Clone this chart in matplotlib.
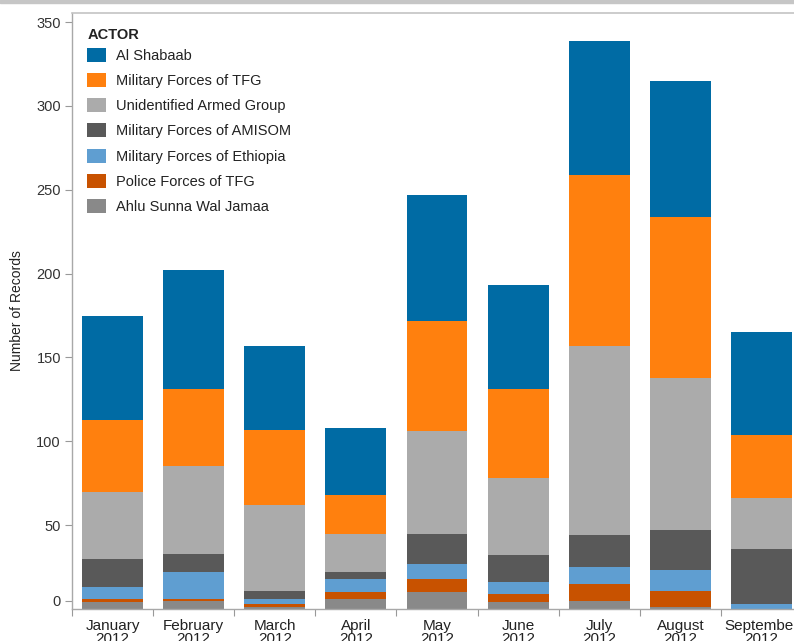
import matplotlib
matplotlib.use("Agg")
import matplotlib.pyplot as plt
import matplotlib.transforms as mtransforms
import numpy as np
from matplotlib.patches import Patch, Rectangle

plt.rcParams['font.family'] = ['Liberation Sans', 'DejaVu Sans']

months = ["January\n2012", "February\n2012", "March\n2012", "April\n2012", "May\n2012",
          "June\n2012", "July\n2012", "August\n2012", "September\n2012"]

# stacked bottom -> top
ahlu_sunna   = [4, 5, 1, 6, 10, 4, 5, 1, 0]
police_tfg   = [2, 1, 2, 4, 8, 5, 10, 10, 0]
ethiopia     = [7, 16, 3, 8, 9, 7, 10, 12, 3]
amisom       = [17, 11, 5, 4, 18, 16, 19, 24, 33]
unidentified = [40, 52, 51, 23, 61, 46, 113, 91, 30]
military_tfg = [43, 46, 45, 23, 66, 53, 102, 96, 38]
al_shabaab   = [62, 71, 50, 40, 75, 62, 80, 81, 61]

legend_order = ["Al Shabaab", "Military Forces of TFG", "Unidentified Armed Group",
                "Military Forces of AMISOM", "Military Forces of Ethiopia",
                "Police Forces of TFG", "Ahlu Sunna Wal Jamaa"]

series = [
    ("Ahlu Sunna Wal Jamaa", ahlu_sunna, "#898989"),
    ("Police Forces of TFG", police_tfg, "#C85200"),
    ("Military Forces of Ethiopia", ethiopia, "#5F9ED1"),
    ("Military Forces of AMISOM", amisom, "#595959"),
    ("Unidentified Armed Group", unidentified, "#ABABAB"),
    ("Military Forces of TFG", military_tfg, "#FF800E"),
    ("Al Shabaab", al_shabaab, "#006BA4"),
]

W, H = 794, 641
fig = plt.figure(figsize=(W / 100, H / 100), dpi=100)
fig.patch.set_facecolor("white")

# top gray strip
fig.add_artist(Rectangle((0, 1 - 3 / H), 1, 3 / H, transform=fig.transFigure,
                         color="#c6c6c6", zorder=0))

left, right = 72 / W, 802 / W
bottom, top = (H - 609) / H, (H - 13) / H
ax = fig.add_axes([left, bottom, right - left, top - bottom])

x = np.arange(len(months))
base = np.zeros(len(months))
colors = {}
for name, vals, col in series:
    ax.bar(x, vals, bottom=base, width=0.75, color=col, edgecolor="none", zorder=2)
    base = base + np.array(vals)
    colors[name] = col

ax.set_xlim(-0.5, len(months) - 0.5)
ax.set_ylim(0, 355.4)
ax.set_yticks([0, 50, 100, 150, 200, 250, 300, 350])
ax.tick_params(axis="y", colors="#999999", labelcolor="#333333", labelsize=10.5,
               length=5, width=0.8, pad=3)

# lift the "0" tick a little above the baseline, as in the reference
off = mtransforms.ScaledTranslation(0, 0.08, fig.dpi_scale_trans)
t0 = ax.yaxis.get_major_ticks()[0]
t0.label1.set_transform(t0.label1.get_transform() + off)
t0.tick1line.set_transform(t0.tick1line.get_transform() + off)

# category labels at centers, ticks at boundaries
ax.set_xticks(x)
ax.set_xticklabels(months, fontsize=11, color="#222222", linespacing=0.9)
ax.tick_params(axis="x", length=0, pad=7)
ax.set_xticks(np.arange(len(months) + 1) - 0.5, minor=True)
ax.tick_params(axis="x", which="minor", length=5, width=0.8, colors="#999999")

ax.spines["right"].set_visible(False)
ax.spines["top"].set_color("#c4c4c4")
ax.spines["top"].set_linewidth(1.2)
for s in ["left", "bottom"]:
    ax.spines[s].set_color("#a8a8a8")
    ax.spines[s].set_linewidth(1.0)

ax.set_ylabel("Number of Records", fontsize=10, color="#222222", labelpad=9)

handles = [Patch(facecolor=colors[n], edgecolor="none") for n in legend_order]
leg = ax.legend(handles, legend_order, loc="upper left",
                bbox_to_anchor=(87 / W, (H - 48) / H), bbox_transform=fig.transFigure,
                frameon=False, fontsize=10.5, handlelength=1.3, handleheight=1.1,
                handletextpad=0.7, labelspacing=0.7,
                borderaxespad=0, borderpad=0)
for t in leg.get_texts():
    t.set_color("#222222")
fig.text(88 / W, 1 - 35 / H, "ACTOR", fontsize=10.5, fontweight="bold",
         color="#222222", ha="left", va="center")

fig.savefig("out.png", dpi=100)
